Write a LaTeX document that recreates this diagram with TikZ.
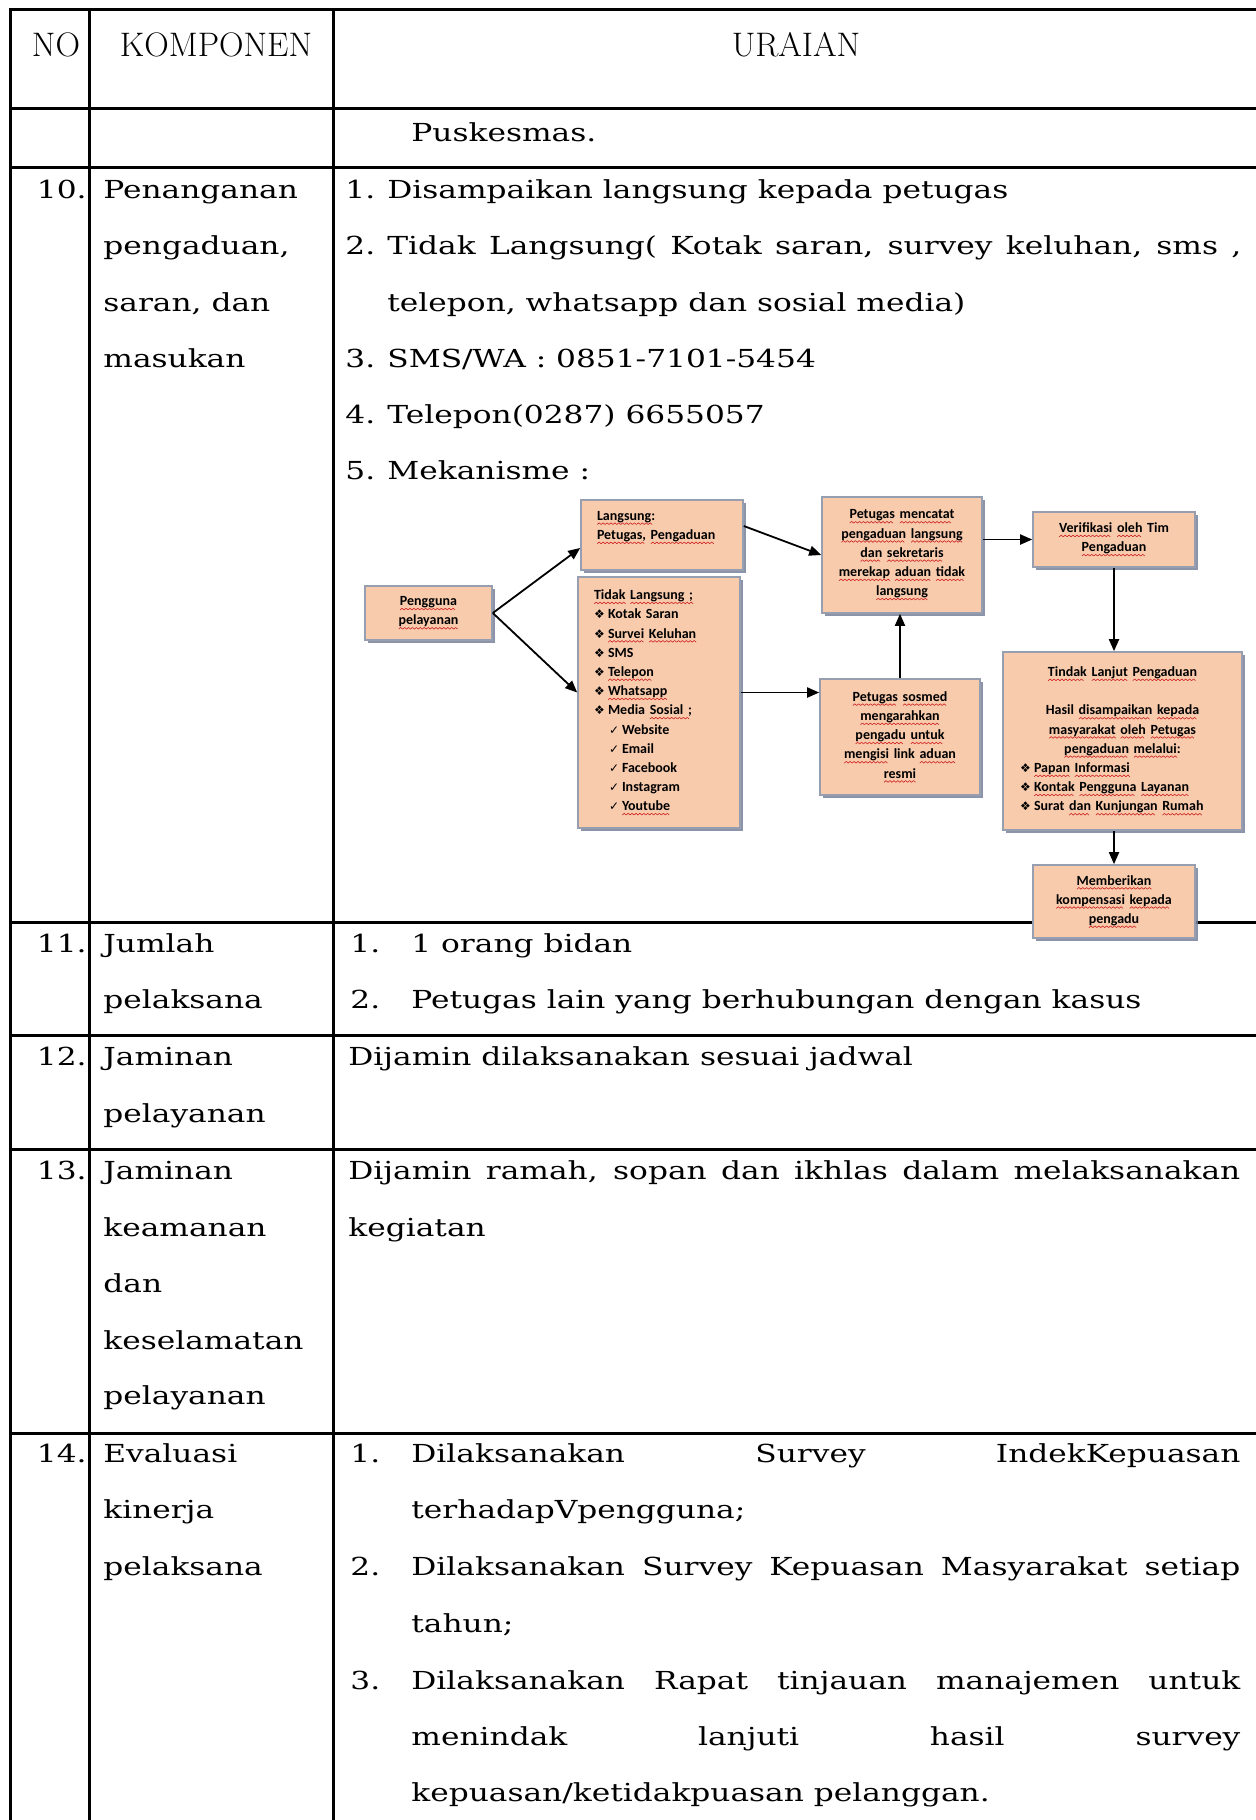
\documentclass[tikz,border=0pt]{standalone}
\usepackage{fontspec}
\usepackage{graphicx}
\usetikzlibrary{arrows.meta,shadows,calc}
\newfontfamily\bk{DejaVu Serif}[FakeStretch=1.26]
\newfontfamily\fc{Carlito}
\newfontfamily\symf{DejaVu Sans}
\definecolor{peach}{RGB}{248,203,173}
\definecolor{bord}{RGB}{150,158,176}
\definecolor{shad}{RGB}{120,130,155}
\definecolor{sqred}{RGB}{205,30,30}
\newsavebox\sqbox
\newcommand\wv{\rlap{\rotatebox{40}{\rule{1.3pt}{0.3pt}}}\kern0.98pt\rlap{\raisebox{0.84pt}{\rotatebox{-40}{\rule{1.3pt}{0.3pt}}}}\kern0.98pt}
\newcommand\sq[1]{\leavevmode\sbox\sqbox{#1}\rlap{\raisebox{-2.2pt}{\color{sqred}\leaders\hbox{\wv}\hskip\wd\sqbox}}\usebox\sqbox}
\newcommand\bul{\makebox[7pt][l]{\symf\fontsize{6}{9.6}\selectfont ❖}}
\newcommand\chk{\hspace{7.5pt}\makebox[6.5pt][l]{\symf\fontsize{6}{9.6}\selectfont ✓}}
\begin{document}
\begin{tikzpicture}[x=0.5pt,y=-0.5pt,
  tline/.style={line width=1.5pt},
  bt/.style={anchor=base west, inner sep=0pt, font=\bk\fontsize{12.4}{14}\selectfont},
  bn/.style={bt, anchor=base east},
  hd/.style={anchor=base, inner sep=0pt, font=\fontsize{17}{20}\selectfont},
  box/.style={draw=bord, line width=0.8pt, fill=peach, inner sep=0pt,
    drop shadow={shadow xshift=1.6pt, shadow yshift=-1.6pt, fill=shad, opacity=0.85},
    font=\fc\bfseries\fontsize{7}{9.6}\selectfont},
  arr/.style={-{Triangle[length=6pt,width=5pt]}, line width=0.9pt}]
\useasboundingbox (0,0) rectangle (1255,1820);
\fill[white] (0,0) rectangle (1255,1820);
% table grid
\draw[tline] (1260,9) -- (10,9) -- (10,1825);
\draw[tline] (89,9) -- (89,1825);
\draw[tline] (333,9) -- (333,1825);
\draw[tline] (10,108) -- (1260,108);
\draw[tline] (10,167) -- (1260,167);
\draw[tline] (10,922) -- (1260,922);
\draw[tline] (10,1035) -- (1260,1035);
\draw[tline] (10,1149) -- (1260,1149);
\draw[tline] (10,1433) -- (1260,1433);
% header
\node[hd] (h1) at (56,56) {NO};
\node[hd] (h2) at (216,56) {KOMPONEN};
\node[hd] (h3) at (796,56) {URAIAN};
\node[bt] (pus) at (411,141) {Puskesmas.};
% row 10
\node[bn] (n10) at (87,198) {10.};
\node[bt] (k10a) at (103,198) {Penanganan};
\node[bt] (k10b) at (103,254) {pengaduan,};
\node[bt] (k10c) at (103,311) {saran, dan};
\node[bt] (k10d) at (103,367) {masukan};
\node[bt] (u10a) at (345,198) {1.};
\node[bt] (u10b) at (387,198) {Disampaikan langsung kepada petugas};
\node[bt] (u10c) at (345,254) {2.};
\node[bt] (u10d) at (387,254) {\makebox[427pt][s]{Tidak Langsung( Kotak saran, survey keluhan, sms ,}};
\node[bt] (u10e) at (387,311) {telepon, whatsapp dan sosial media)};
\node[bt] (u10f) at (345,367) {3.};
\node[bt] (u10g) at (387,367) {SMS/WA : 0851-7101-5454};
\node[bt] (u10h) at (345,423) {4.};
\node[bt] (u10i) at (387,423) {Telepon(0287) 6655057};
\node[bt] (u10j) at (345,479) {5.};
\node[bt] (u10k) at (387,479) {Mekanisme :};
% row 11
\node[bn] (n11) at (87,952) {11.};
\node[bt] (k11a) at (103,952) {Jumlah};
\node[bt] (k11b) at (103,1008) {pelaksana};
\node[bt] (u11a) at (350,952) {1.};
\node[bt] (u11b) at (411,952) {1 orang bidan};
\node[bt] (u11c) at (350,1008) {2.};
\node[bt] (u11d) at (411,1008) {Petugas lain yang berhubungan dengan kasus};
% row 12
\node[bn] (n12) at (87,1065) {12.};
\node[bt] (k12a) at (103,1065) {Jaminan};
\node[bt] (k12b) at (103,1122) {pelayanan};
\node[bt] (u12a) at (348,1065) {Dijamin dilaksanakan sesuai jadwal};
% row 13
\node[bn] (n13) at (87,1179) {13.};
\node[bt] (k13a) at (103,1179) {Jaminan};
\node[bt] (k13b) at (103,1236) {keamanan};
\node[bt] (k13c) at (103,1292) {dan};
\node[bt] (k13d) at (103,1349) {keselamatan};
\node[bt] (k13e) at (103,1404) {pelayanan};
\node[bt] (u13a) at (348,1179) {\makebox[446pt][s]{Dijamin ramah, sopan dan ikhlas dalam melaksanakan}};
\node[bt] (u13b) at (348,1236) {kegiatan};
% row 14
\node[bn] (n14) at (87,1462) {14.};
\node[bt] (k14a) at (103,1462) {Evaluasi};
\node[bt] (k14b) at (103,1518) {kinerja};
\node[bt] (k14c) at (103,1575) {pelaksana};
\node[bt] (u14a) at (350,1462) {1.};
\node[bt] (u14b) at (411,1462) {\makebox[414.5pt][s]{Dilaksanakan Survey IndekKepuasan}};
\node[bt] (u14c) at (411,1518) {terhadapVpengguna;};
\node[bt] (u14d) at (350,1575) {2.};
\node[bt] (u14e) at (411,1575) {\makebox[414.5pt][s]{Dilaksanakan Survey Kepuasan Masyarakat setiap}};
\node[bt] (u14f) at (411,1632) {tahun;};
\node[bt] (u14g) at (350,1689) {3.};
\node[bt] (u14h) at (411,1689) {\makebox[414.5pt][s]{Dilaksanakan Rapat tinjauan manajemen untuk}};
\node[bt] (u14i) at (411,1745) {\makebox[414.5pt][s]{menindak lanjuti hasil survey}};
\node[bt] (u14j) at (411,1801) {kepuasan/ketidakpuasan pelanggan.};
% flowchart
\node[box, minimum width=63.5pt, minimum height=27pt, align=center, text width=60pt] (P) at (428.5,613)
  {\sq{Pengguna}\\ \sq{pelayanan}};
\node[box, minimum width=81pt, minimum height=35pt, align=left, text width=65pt] (L) at (662,535)
  {\sq{Langsung:}\\ \sq{Petugas,} \sq{Pengaduan}\\ ~};
\node[box, minimum width=81pt, minimum height=125.5pt, align=left, text width=65pt] (T) at (659,702.5)
  {\sq{Tidak} \sq{Langsung ;}\\
   \bul Kotak Saran\\
   \bul \sq{Survei} \sq{Keluhan}\\
   \bul SMS\\
   \bul \sq{Telepon}\\
   \bul \sq{Whatsapp}\\
   \bul Media \sq{Sosial ;}\\
   \chk Website\\
   \chk Email\\
   \chk Facebook\\
   \chk Instagram\\
   \chk \sq{Youtube}};
\node[box, minimum width=80pt, minimum height=58pt, align=center, text width=76pt] (M) at (902,555)
  {\sq{Petugas} \sq{mencatat}\\ \sq{pengaduan} \sq{langsung}\\ \sq{dan} \sq{sekretaris}\\ \sq{merekap} \sq{aduan} \sq{tidak}\\ \sq{langsung}};
\node[box, minimum width=81pt, minimum height=27.5pt, align=center, text width=76pt] (V) at (1114,539.5)
  {\sq{Verifikasi} \sq{oleh} Tim\\ \sq{Pengaduan}};
\node[box, minimum width=119.5pt, minimum height=89pt, align=center, text width=112pt] (TL) at (1122.5,741)
  {\sq{Tindak} \sq{Lanjut} \sq{Pengaduan}\\ ~\\
   Hasil \sq{disampaikan} \sq{kepada}\\
   \sq{masyarakat} \sq{oleh} \sq{Petugas}\\
   \sq{pengaduan} \sq{melalui:}\\
   \makebox[102.5pt][l]{\bul \sq{Papan} \sq{Informasi}}\\
   \makebox[102.5pt][l]{\bul \sq{Kontak} \sq{Pengguna} \sq{Layanan}}\\
   \makebox[102.5pt][l]{\bul Surat \sq{dan} \sq{Kunjungan} \sq{Rumah}}};
\node[box, minimum width=80pt, minimum height=58pt, align=center, text width=76pt] (S) at (900,737)
  {\sq{Petugas} \sq{sosmed}\\ \sq{mengarahkan}\\ \sq{pengadu} \sq{untuk}\\ \sq{mengisi} link \sq{aduan}\\ \sq{resmi}};
\node[box, minimum width=81pt, minimum height=36.5pt, align=center, text width=76pt] (B) at (1114,901.5)
  {\sq{Memberikan}\\ \sq{kompensasi} \sq{kepada}\\ \sq{pengadu}};
% connectors
\draw[arr] (P.east) -- ([yshift=-6.5pt]L.west);
\draw[arr] (P.east) -- ([yshift=5pt]T.west);
\draw[arr] ([yshift=4.5pt]L.east) -- (M.west);
\draw[arr] ([yshift=5pt]T.east) -- ([yshift=5pt]T.east -| S.west);
\draw[arr] (S.north) -- (S.north |- M.south);
\draw[arr] (M.east |- V.west) -- (V.west);
\draw[arr] (V.south) -- (V.south |- TL.north);
\draw[arr] (B.north |- TL.south) -- (B.north);
\end{tikzpicture}
\end{document}
